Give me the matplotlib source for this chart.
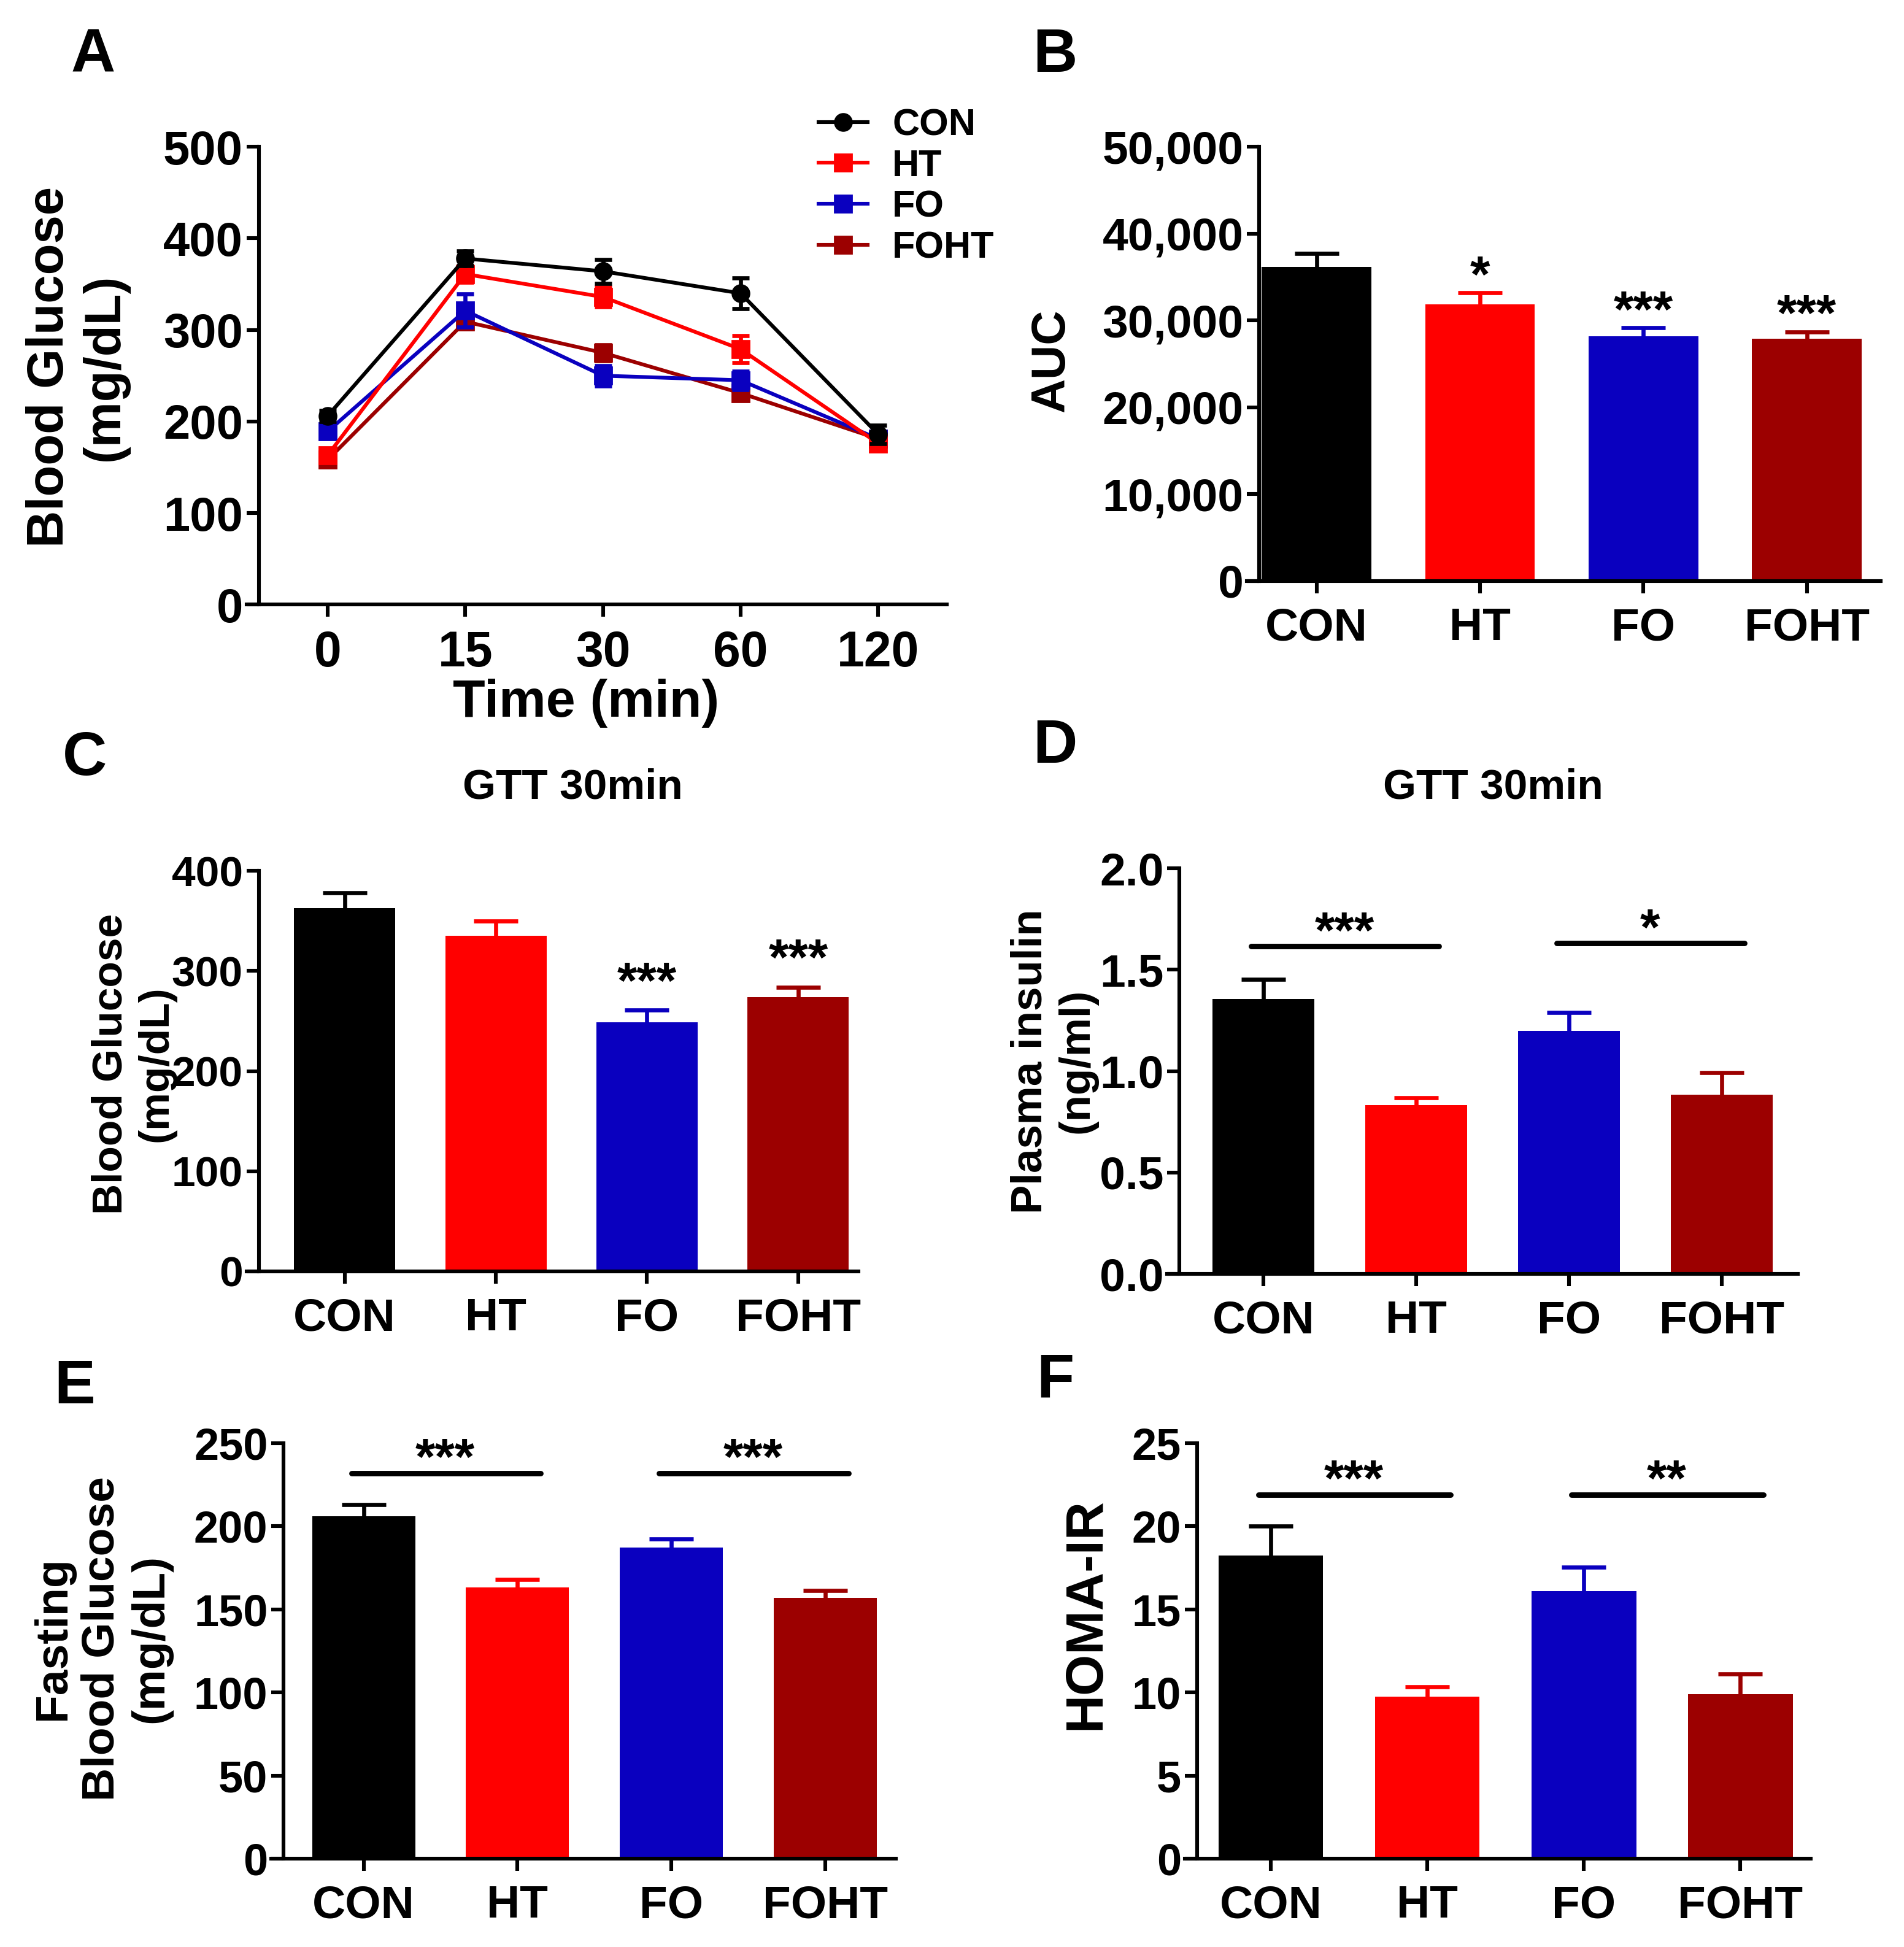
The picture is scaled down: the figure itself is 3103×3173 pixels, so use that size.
import numpy as np
import matplotlib.pyplot as plt
from matplotlib.ticker import MultipleLocator, FuncFormatter

plt.rcParams['font.family'] = ['Liberation Sans', 'DejaVu Sans']
plt.rcParams['font.weight'] = 'bold'
plt.rcParams['axes.labelweight'] = 'bold'
plt.rcParams['axes.linewidth'] = 2.2

groups = ['CON', 'HT', 'FO', 'FOHT']
colors = ['#000000', '#FF0000', '#0A00BF', '#9C0000']

# A: glucose tolerance test curve
gtt_times = ['0', '15', '30', '60', '120']
gtt_con = [206, 378, 364, 340, 186]
gtt_ht = [163, 361, 336, 279, 176]
gtt_fo = [189, 321, 250, 245, 181]
gtt_foht = [158, 309, 275, 231, 181]
gtt_con_err = [6, 8, 13, 17, 10]
gtt_ht_err = [7, 9, 11, 15, 5]
gtt_fo_err = [7, 18, 11, 10, 5]
gtt_foht_err = [6, 8, 9, 6, 6]

# B: area under the curve
auc = [36200, 31850, 28150, 27900]
auc_err = [1500, 1350, 1000, 800]
auc_sig = ['', '*', '***', '***']

# C: blood glucose at 30 min
glu30 = [363, 335, 249, 274]
glu30_err = [15, 15, 12, 10]
glu30_sig = ['', '', '***', '***']

# D: plasma insulin at 30 min
insulin = [1.355, 0.832, 1.20, 0.885]
insulin_err = [0.097, 0.036, 0.09, 0.107]
insulin_sig = ['***', '*']
insulin_sig_y = [1.615, 1.63]

# E: fasting blood glucose
fasting = [206, 163, 187, 157]
fasting_err = [7, 5, 5.5, 4.5]
fasting_sig = ['***', '***']
fasting_sig_y = [232, 232]

# F: HOMA-IR
homa = [18.25, 9.75, 16.1, 9.9]
homa_err = [1.75, 0.6, 1.45, 1.2]
homa_sig = ['***', '**']
homa_sig_y = [21.9, 21.9]

pairs = [(0, 1), (2, 3)]

fig = plt.figure(figsize=(3103 / 200, 3173 / 200), dpi=200)


def style(ax, xlim, ylim, ystep, tick_fs, xtick_fs):
    ax.set_xlim(*xlim)
    ax.set_ylim(*ylim)
    ax.yaxis.set_major_locator(MultipleLocator(ystep))
    ax.spines['top'].set_visible(False)
    ax.spines['right'].set_visible(False)
    ax.spines['left'].set_position(('outward', -7.2))
    ax.tick_params(direction='out', length=7.2, width=2.2)
    ax.tick_params(axis='y', labelsize=tick_fs, pad=2)
    ax.tick_params(axis='x', labelsize=xtick_fs, pad=8)


def bars(ax, vals, err):
    x = np.arange(len(groups))
    ax.bar(x, vals, width=0.67, color=colors, zorder=2)
    for i in x:
        eb = ax.errorbar(i, vals[i], yerr=[[0], [err[i]]], fmt='none', ecolor=colors[i],
                         elinewidth=2.4, capsize=13, capthick=2.4, zorder=3, clip_on=False)
        eb[1][0].set_visible(False)  # no cap on the bar top
    ax.set_xticks(x)
    ax.set_xticklabels(groups)


def star(ax, x, y, s, dy, fs=30):
    ax.annotate(s, (x, y), xytext=(0, dy), textcoords='offset points',
                ha='center', va='baseline', fontsize=fs, fontweight='bold',
                annotation_clip=False)


def sig_lines(ax, labels, heights):
    for (i, j), s, h in zip(pairs, labels, heights):
        ax.plot([i - 0.08, j + 0.15], [h, h], color='k', lw=3.2,
                solid_capstyle='round', clip_on=False, zorder=4)
        star(ax, (i + j) / 2 + 0.03, h, s, -0.8)


# ---- A
axA = fig.add_axes([0.1294, 0.6895, 0.368, 0.2351])
xs = np.arange(len(gtt_times))
series = [(gtt_con, gtt_con_err, 'o'), (gtt_ht, gtt_ht_err, 's'),
          (gtt_fo, gtt_fo_err, 's'), (gtt_foht, gtt_foht_err, 's')]
handles = []
for k in range(3, -1, -1):
    vals, err, mk = series[k]
    eb = axA.errorbar(xs, vals, yerr=err, color=colors[k], lw=2.2, marker=mk, ms=10,
                      capsize=5, capthick=2.4, elinewidth=2.4, zorder=3 + (3 - k))
    handles.insert(0, eb[0])
style(axA, (-0.59, 4.5), (0, 500), 100, 28, 29)
axA.set_xticks(xs)
axA.set_xticklabels(gtt_times)
axA.set_xlabel('Time (min)', fontsize=31, fontweight='bold', labelpad=1)
axA.xaxis.label.set_x(0.485)
fig.legend(handles, groups, loc='upper left', bbox_to_anchor=(0.430, 0.9445),
           frameon=False, fontsize=22, handlelength=1.3, handletextpad=0.66,
           labelspacing=0.16, borderpad=0, borderaxespad=0, numpoints=1)
fig.text(0.0405, 0.8115, 'Blood Glucose\n(mg/dL)', rotation=90, ha='center', va='center',
         fontsize=30, multialignment='center')

# ---- B
axB = fig.add_axes([0.6549, 0.7016, 0.3327, 0.2230])
bars(axB, auc, auc_err)
style(axB, (-0.426, 3.45), (0, 50000), 10000, 27, 27)
axB.yaxis.set_major_formatter(FuncFormatter(lambda v, p: f'{v:,.0f}'))
for i, s in enumerate(auc_sig):
    if s:
        star(axB, i, auc[i] + auc_err[i], s, 0.5)
fig.text(0.5523, 0.8147, 'AUC', rotation=90, ha='center', va='center', fontsize=28)

# ---- C
axC = fig.add_axes([0.1294, 0.347, 0.3216, 0.2057])
bars(axC, glu30, glu30_err)
style(axC, (-0.65, 3.40), (0, 400), 100, 25, 27)
for i, s in enumerate(glu30_sig):
    if s:
        star(axC, i, glu30[i] + glu30_err[i], s, 7)
fig.text(0.3007, 0.5955, 'GTT 30min', ha='center', va='center', fontsize=25)
fig.text(0.070, 0.4537, 'Blood Glucose\n(mg/dL)', rotation=90, ha='center', va='center',
         fontsize=25, multialignment='center')

# ---- D
axD = fig.add_axes([0.613, 0.3457, 0.3314, 0.2083])
bars(axD, insulin, insulin_err)
style(axD, (-0.63, 3.50), (0, 2.0), 0.5, 27, 27)
axD.yaxis.set_major_formatter(FuncFormatter(lambda v, p: f'{v:.1f}'))
sig_lines(axD, insulin_sig, insulin_sig_y)
fig.text(0.7843, 0.5955, 'GTT 30min', ha='center', va='center', fontsize=25)
fig.text(0.5536, 0.455, 'Plasma insulin\n(ng/ml)', rotation=90, ha='center', va='center',
         fontsize=25.5, multialignment='center')

# ---- E
axE = fig.add_axes([0.1425, 0.0454, 0.3281, 0.2134])
bars(axE, fasting, fasting_err)
style(axE, (-0.6, 3.46), (0, 250), 50, 26, 27)
sig_lines(axE, fasting_sig, fasting_sig_y)
fig.text(0.0536, 0.1585, 'Fasting\nBlood Glucose\n(mg/dL)', rotation=90, ha='center',
         va='center', fontsize=27, multialignment='center')

# ---- F
axF = fig.add_axes([0.6222, 0.0454, 0.3288, 0.2134])
bars(axF, homa, homa_err)
style(axF, (-0.55, 3.45), (0, 25), 5, 26, 27)
sig_lines(axF, homa_sig, homa_sig_y)
fig.text(0.5706, 0.1712, 'HOMA-IR', rotation=90, ha='center', va='center', fontsize=31)

# panel letters
for lab, x, y in [('A', 0.049, 0.9712), ('B', 0.5542, 0.9712), ('C', 0.0444, 0.6102),
                  ('D', 0.5542, 0.6166), ('E', 0.0392, 0.2875), ('F', 0.5542, 0.2907)]:
    fig.text(x, y, lab, ha='center', va='center', fontsize=36)

fig.savefig('out.png', dpi=200)
